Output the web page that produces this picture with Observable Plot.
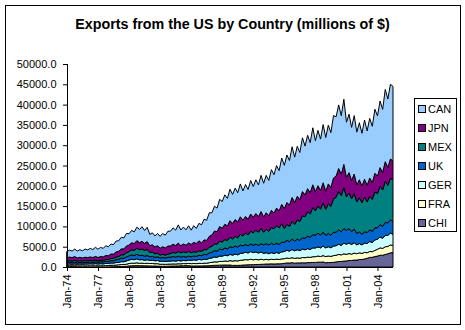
<!DOCTYPE html>
<html><head><meta charset="utf-8">
<script src="https://cdn.jsdelivr.net/npm/d3@7"></script>
<script src="https://cdn.jsdelivr.net/npm/@observablehq/plot@0.6"></script>
<style>
body{margin:0;background:#fff;font-family:Arial,"Liberation Sans",sans-serif;}
#wrap{position:relative;width:465px;height:330px;overflow:hidden;background:#fff}
#chart{position:absolute;left:0;top:0}
#frame{position:absolute;left:5px;top:5px;width:454px;height:318px;border:1px solid #000;pointer-events:none}
#title{position:absolute;left:0;width:465px;top:16px;text-align:center;font-weight:bold;font-size:14.3px;line-height:16px;color:#000}
#legend{position:absolute;left:414px;top:98px;width:41px;height:132px;border:1px solid #000;background:#fff}
.item{position:absolute;left:3px;height:12px;font-size:11px;line-height:12px;color:#000}
.sw{position:absolute;left:0;top:2px;width:6px;height:6px;border:1px solid #000}
.lab{position:absolute;left:10px;top:0;white-space:nowrap}
</style>
</head><body>
<div id="wrap">
  <div id="chart"></div>
  <div id="frame"></div>
  <div id="title">Exports from the US by Country (millions of $)</div>
  <div id="legend"></div>
</div>
<script>
// Quarterly readings (Jan, Apr, Jul, Oct), Jan-74 .. Jul-05, millions of $
const CAN = [
1560,1720,1620,1850, 1700,1880,1760,2020, 1900,2090,1960,2240, 2040,2230,2100,2400,
2200,2450,2320,2680, 2580,2860,2700,3100, 2780,3060,2890,3300, 3240,3600,3180,3540,
2760,2960,2710,3010, 2910,3270,3140,3650, 3640,4020,3790,4500, 3860,4150,3800,4240,
3500,4100,3710,4290, 4470,5090,4950,5810, 5480,6100,5810,6700, 6590,7240,6790,7750,
7120,7730,7180,8100, 7230,7850,7300,8250, 7570,8310,7810,8910, 8280,9180,8690,10010,
9440,10450,9910,11400, 10650,11680,10960,12490, 11170,12310,11590,13240, 12010,13160,12340,14040,
12520,13620,12680,14340, 13220,14460,13520,15370, 14610,15670,14390,16050, 13580,14400,13060,14400,
13000,14040,12990,14590, 13390,14710,13820,15780, 14820,16390,15500,17800, 16870,18410,18300];
const JPN = [
840,910,860,960, 780,830,770,830, 800,860,810,900, 800,890,850,970,
930,1070,1070,1250, 1290,1470,1450,1670, 1600,1760,1690,1890, 1740,1870,1750,1910,
1680,1800,1680,1840, 1710,1870,1770,1960, 1880,2020,1890,2080, 1760,1920,1820,2030,
2070,2280,2180,2450, 2090,2360,2310,2650, 2770,3150,3100,3570, 3400,3760,3610,4070,
3830,4150,3910,4310, 3860,4130,3840,4200, 3830,4100,3820,4180, 3780,4090,3850,4250,
3870,4320,4190,4770, 4900,5430,5220,5890, 5390,5800,5410,5940, 5390,5670,5190,5570,
4740,5010,4580,4930, 4490,4900,4640,5150, 5220,5610,5220,5710, 4810,5010,4530,4800,
4190,4440,4090,4410, 4130,4460,4180,4610, 4290,4640,4350,4800, 4410,4750,4700];
const MEX = [
360,410,400,470, 400,440,410,450, 400,430,400,440, 350,400,390,450,
460,550,560,670, 650,800,830,1010, 1080,1250,1250,1470, 1460,1550,1410,1520,
1060,1060,900,900, 720,780,730,810, 880,1010,980,1140, 1070,1170,1090,1210,
970,1060,1000,1110, 1040,1210,1210,1430, 1480,1710,1700,1990, 1870,2100,2040,2340,
2120,2380,2310,2640, 2450,2790,2730,3150, 3090,3440,3290,3720, 3140,3520,3380,3840,
3950,4340,4090,4570, 3400,3900,3800,4350, 4120,4740,4670,5430, 5320,6010,5820,6680,
6020,6700,6400,7240, 6410,7290,7120,8220, 8600,9480,8980,10070, 8230,8770,8040,8720,
7780,8390,7780,8550, 7510,8290,7860,8830, 8430,9390,8980,10160, 9230,10220,10300];
const UK = [
370,390,370,400, 360,390,360,390, 370,410,390,440, 440,490,480,550,
500,580,590,690, 770,880,880,1010, 1000,1080,1020,1130, 1030,1080,980,1040,
880,920,840,890, 830,900,860,940, 980,1040,980,1070, 930,970,900,970,
880,960,930,1030, 1030,1170,1160,1340, 1390,1540,1510,1700, 1600,1760,1690,1890,
1880,2010,1890,2060, 1790,1890,1760,1900, 1780,1930,1850,2050, 2070,2240,2130,2350,
2130,2290,2160,2360, 2270,2460,2330,2570, 2380,2610,2510,2800, 2820,3080,2950,3290,
3130,3350,3140,3420, 3070,3280,3080,3370, 3330,3560,3340,3640, 3420,3540,3210,3390,
2790,2890,2620,2770, 2700,2890,2730,2980, 2840,3070,2900,3200, 3070,3290,3110];
const GER = [
390,420,390,430, 410,440,420,460, 460,490,460,510, 460,500,470,530,
520,580,560,640, 630,710,690,800, 870,940,880,980, 870,890,810,860,
780,810,730,780, 710,750,690,750, 740,780,720,800, 720,770,730,810,
830,900,850,960, 900,990,940,1070, 1090,1200,1160,1320, 1310,1430,1360,1540,
1470,1590,1510,1700, 1700,1820,1700,1890, 1770,1830,1670,1800, 1580,1640,1490,1610,
1520,1630,1540,1720, 1760,1900,1800,2010, 1890,2010,1870,2070, 1950,2090,1960,2170,
2140,2270,2120,2340, 2150,2290,2140,2370, 2350,2510,2340,2600, 2500,2600,2370,2560,
2190,2290,2100,2290, 2280,2450,2300,2570, 2480,2670,2510,2810, 2740,2920,2730];
const FRA = [
230,250,230,260, 240,260,240,260, 270,290,270,300, 270,300,280,320,
330,360,340,380, 430,470,450,520, 590,640,600,670, 600,630,580,630,
600,620,560,600, 500,510,460,490, 490,510,480,520, 480,520,490,550,
570,610,580,640, 600,660,640,730, 780,850,810,920, 890,980,940,1070,
1070,1160,1100,1240, 1240,1310,1220,1340, 1210,1260,1150,1250, 1100,1150,1050,1140,
1100,1160,1080,1190, 1150,1220,1130,1240, 1160,1240,1160,1290, 1280,1360,1280,1410,
1420,1510,1410,1570, 1520,1610,1510,1670, 1650,1750,1620,1790, 1640,1710,1570,1710,
1570,1640,1500,1620, 1360,1460,1370,1520, 1690,1800,1690,1890, 1810,1920,1780];
const CHI = [
80,70,62,55, 35,28,22,18, 10,9,10,12, 12,14,16,18,
45,60,72,88, 110,135,150,170, 270,310,320,365, 310,310,290,295,
260,250,235,225, 170,180,185,200, 225,250,250,275, 300,330,325,345,
250,255,255,270, 260,285,295,325, 375,415,420,460, 470,500,475,490,
390,405,395,415, 470,520,535,575, 570,620,620,660, 680,740,735,780,
730,780,770,820, 900,990,980,1060, 950,1010,1000,1045, 1010,1080,1080,1130,
1120,1195,1180,1240, 1040,1100,1090,1140, 1240,1350,1360,1450, 1480,1610,1600,1710,
1700,1840,1850,1980, 2150,2360,2390,2570, 2680,2910,2890,3090, 3250,3500,3550];

const stackOrder = ["CHI","FRA","GER","UK","MEX","JPN","CAN"];
const legendOrder = ["CAN","JPN","MEX","UK","GER","FRA","CHI"];
const colors = {CHI:"#666699", FRA:"#FFFFCC", GER:"#CCFFFF", UK:"#0066CC", MEX:"#008080", JPN:"#800080", CAN:"#99CCFF"};
const series = {CAN, JPN, MEX, UK, GER, FRA, CHI};
const tickYears = [1974,1977,1980,1983,1986,1989,1992,1995,1998,2001,2004];
const yTicks = [0,5000,10000,15000,20000,25000,30000,35000,40000,45000,50000];

const dates = d3.utcMonths(new Date(Date.UTC(1974,0,1)), new Date(Date.UTC(2005,7,1)), 3);
const rows = [];
for (const c of stackOrder) series[c].forEach((v,i) => rows.push({date: dates[i], country: c, value: v}));

const chart = Plot.plot({
  width: 465, height: 330,
  marginLeft: 67, marginRight: 72, marginTop: 64, marginBottom: 63,
  style: {fontFamily: 'Arial, "Liberation Sans", sans-serif', fontSize: "11px", color: "#000", background: "transparent"},
  x: {type: "utc", domain: [dates[0], dates[dates.length-1]]},
  y: {domain: [0, 50000]},
  color: {domain: stackOrder, range: stackOrder.map(c => colors[c])},
  marks: [
    Plot.areaY(rows, {x: "date", y: "value", z: "country", fill: "country", order: stackOrder, stroke: "#000", strokeWidth: 1}),
    Plot.ruleY([0], {stroke: "#000"}),
    Plot.ruleX([dates[0]], {stroke: "#000"}),
    Plot.axisY({ticks: yTicks, tickFormat: d => d.toFixed(1), tickSize: 4, tickPadding: 7, label: null}),
    Plot.axisX({ticks: tickYears.map(y => new Date(Date.UTC(y,0,1))), tickFormat: d3.utcFormat("%b-%y"), tickRotate: -90, tickSize: 4, tickPadding: 3, label: null})
  ]
});
document.getElementById("chart").appendChild(chart);

const leg = document.getElementById("legend");
legendOrder.forEach((c, k) => {
  const it = document.createElement("div");
  it.className = "item";
  it.style.top = (3.7 + 19*k) + "px";
  const sw = document.createElement("div");
  sw.className = "sw"; sw.style.background = colors[c];
  const lb = document.createElement("div");
  lb.className = "lab"; lb.textContent = c;
  it.appendChild(sw); it.appendChild(lb);
  leg.appendChild(it);
});
</script>
</body></html>
